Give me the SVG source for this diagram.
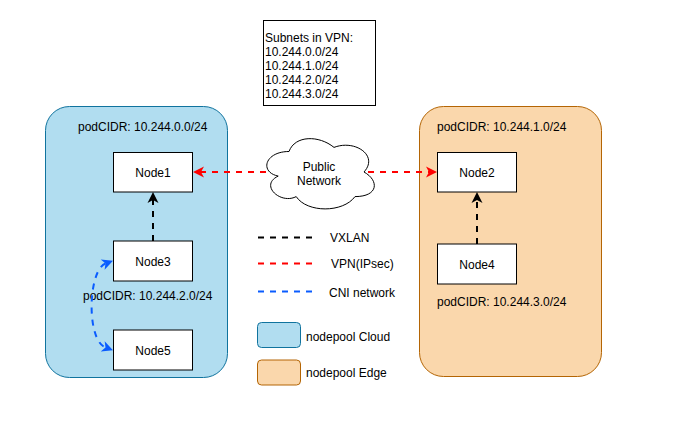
<svg xmlns="http://www.w3.org/2000/svg" width="682" height="424" viewBox="0 0 682 424">
<style>
text{font-family:"Liberation Sans",Arial,Helvetica,sans-serif;font-size:12px;fill:#000}
.node{fill:#fff;stroke:#000;stroke-width:1}
.mid{text-anchor:middle}
.dash{fill:none;stroke-width:2;stroke-dasharray:6 6}
.blk{stroke:#000}
.red{stroke:#ff0000}
.blue{stroke:#0a5cff}
</style>
<defs>
<marker id="ab" viewBox="-12 -6 13 12" markerWidth="13" markerHeight="12" refX="-8" refY="0" orient="auto-start-reverse" markerUnits="userSpaceOnUse"><path d="M0,0 L-11,-5.5 L-8,0 L-11,5.5 Z" fill="#000"/></marker>
<marker id="ar" viewBox="-12 -6 13 12" markerWidth="13" markerHeight="12" refX="-8" refY="0" orient="auto-start-reverse" markerUnits="userSpaceOnUse"><path d="M0,0 L-11,-5.5 L-8,0 L-11,5.5 Z" fill="#ff0000"/></marker>
<marker id="au" viewBox="-12 -6 13 12" markerWidth="13" markerHeight="12" refX="-8" refY="0" orient="auto-start-reverse" markerUnits="userSpaceOnUse"><path d="M0,0 L-11,-5.5 L-8,0 L-11,5.5 Z" fill="#0a5cff"/></marker>
</defs>
<rect width="682" height="424" fill="#fff"/>

<g id="pool-cloud">
<rect x="45.5" y="106.5" width="182" height="271" rx="24" fill="#b1ddf0" stroke="#10739e"/>
<text x="78" y="130.5">podCIDR: 10.244.0.0/24</text>
<text x="83" y="300">podCIDR: 10.244.2.0/24</text>
</g>
<g id="pool-edge">
<rect x="419.5" y="106.5" width="182" height="270" rx="24" fill="#fad7ac" stroke="#b46504"/>
<text x="437" y="130.5">podCIDR: 10.244.1.0/24</text>
<text x="437" y="305.5">podCIDR: 10.244.3.0/24</text>
</g>

<g id="subnets">
<rect x="263.5" y="20.5" width="112" height="85" fill="#fff" stroke="#000"/>
<text x="265" y="41.7">Subnets in VPN:</text>
<text x="265" y="55.7">10.244.0.0/24</text>
<text x="265" y="69.7">10.244.1.0/24</text>
<text x="265" y="83.7">10.244.2.0/24</text>
<text x="265" y="97.7">10.244.3.0/24</text>
</g>

<g id="public-network">
<path transform="translate(259,131)" d="M30,20.5 C6,20.5 0,41 19.2,45.1 C0,54.1 21.6,73.8 37.2,65.6 C48,82 84,82 96,65.6 C120,65.6 120,49.2 105,41 C120,24.6 96,8.2 75,16.4 C60,4.1 36,4.1 30,20.5 Z" fill="#fff" stroke="#000"/>
<text class="mid" x="319" y="170.5">Public</text>
<text class="mid" x="319" y="184.5">Network</text>
</g>

<g id="node1"><rect class="node" x="113.5" y="152.5" width="79" height="39.5"/><text class="mid" x="153" y="176.5">Node1</text></g>
<g id="node2"><rect class="node" x="437.5" y="152.5" width="79" height="39.5"/><text class="mid" x="477" y="176.5">Node2</text></g>
<g id="node3"><rect class="node" x="113.5" y="241" width="79" height="40"/><text class="mid" x="153" y="265.5">Node3</text></g>
<g id="node4"><rect class="node" x="437.5" y="244" width="79" height="40"/><text class="mid" x="477" y="268.5">Node4</text></g>
<g id="node5"><rect class="node" x="113.5" y="330" width="79" height="40"/><text class="mid" x="153" y="354.5">Node5</text></g>

<g id="connectors">
<path class="dash red" d="M266,172 L201,172" marker-end="url(#ar)"/>
<path class="dash red" d="M368,172 L429,172" marker-end="url(#ar)"/>
<path class="dash blk" d="M153,241 L153,200" marker-end="url(#ab)"/>
<path class="dash blk" d="M477,244 L477,200" marker-end="url(#ab)"/>
<path class="dash blue" d="M105.5,263.5 C88,270 86,340 105.5,347.5" marker-start="url(#au)" marker-end="url(#au)"/>
</g>

<g id="legend">
<path class="dash blk" d="M258,237.5 L315,237.5"/>
<text x="330" y="241.5">VXLAN</text>
<path class="dash red" d="M258,263.5 L315,263.5"/>
<text x="331" y="268">VPN(IPsec)</text>
<path class="dash blue" d="M258,291.5 L315,291.5"/>
<text x="329" y="296.5">CNI network</text>
<rect x="257.5" y="322.5" width="43" height="25" rx="4" fill="#b1ddf0" stroke="#10739e"/>
<text x="306" y="340.5">nodepool Cloud</text>
<rect x="257.5" y="360" width="43" height="25" rx="4" fill="#fad7ac" stroke="#b46504"/>
<text x="306" y="376.5">nodepool Edge</text>
</g>
</svg>
